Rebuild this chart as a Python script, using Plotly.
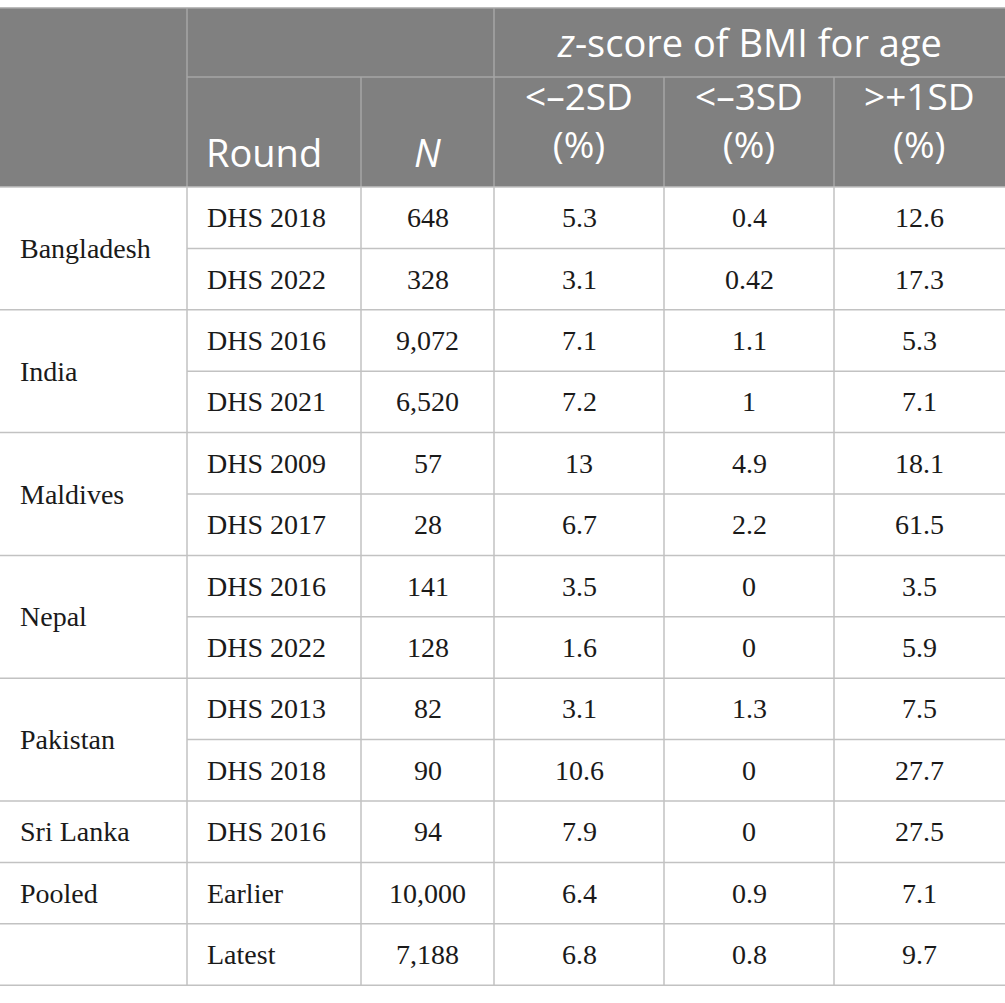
import plotly.graph_objects as go

# table content
countries = ["Bangladesh", "India", "Maldives", "Nepal", "Pakistan", "Sri Lanka", "Pooled", ""]
country_span = [2, 2, 2, 2, 2, 1, 1, 1]
rounds = ["DHS 2018", "DHS 2022", "DHS 2016", "DHS 2021", "DHS 2009", "DHS 2017",
          "DHS 2016", "DHS 2022", "DHS 2013", "DHS 2018", "DHS 2016", "Earlier", "Latest"]
n_obs = ["648", "328", "9,072", "6,520", "57", "28", "141", "128", "82", "90", "94", "10,000", "7,188"]
below_2sd = [5.3, 3.1, 7.1, 7.2, 13, 6.7, 3.5, 1.6, 3.1, 10.6, 7.9, 6.4, 6.8]
below_3sd = [0.4, 0.42, 1.1, 1, 4.9, 2.2, 0, 0, 1.3, 0, 0, 0.9, 0.8]
above_1sd = [12.6, 17.3, 5.3, 7.1, 18.1, 61.5, 3.5, 5.9, 7.5, 27.7, 27.5, 7.1, 9.7]

group_title = "<i>z</i>-score of BMI for age"
col_titles = ["Round", "<i>N</i>"]
sd_titles = ["<–2SD<br>(%)", "<–3SD<br>(%)", ">+1SD<br>(%)"]

# layout of the grid (pixels)
W, H = 1005, 1003
col_edges = [0, 187, 361, 494, 664, 834, 1005]
top, head_mid, head_bot = 8, 77, 187
row_h = 61.4

HEAD_BG = "#808080"
HEAD_LINE = "#a6a6a6"
BODY_LINE = "#c2c2c2"
TXT = "#1a1a1a"
sans = "Open Sans"
serif = "Liberation Serif"

fig = go.Figure()


def line(x0, y0, x1, y1, color):
    fig.add_shape(type="line", x0=x0, y0=y0, x1=x1, y1=y1, xref="x", yref="y",
                  line=dict(color=color, width=1.5), layer="above")


def text(x, y, s, size, color, font, xanchor="center", yanchor="middle"):
    fig.add_annotation(x=x, y=y, text=s, showarrow=False, xref="x", yref="y",
                       xanchor=xanchor, yanchor=yanchor, borderpad=0,
                       font=dict(family=font, size=size, color=color))


# header background
fig.add_shape(type="rect", x0=0, x1=W, y0=top, y1=head_bot, xref="x", yref="y",
              fillcolor=HEAD_BG, line=dict(width=0), layer="below")

# header lines
line(0, top, W, top, HEAD_LINE)
line(col_edges[1], head_mid, W, head_mid, HEAD_LINE)
for i in (1, 3):
    line(col_edges[i], top, col_edges[i], head_bot, HEAD_LINE)
for i in (2, 4, 5):
    line(col_edges[i], head_mid, col_edges[i], head_bot, HEAD_LINE)

# header text
text((col_edges[3] + col_edges[6]) / 2, 42, group_title, 38, "white", sans)
text(col_edges[1] + 18, 152, col_titles[0], 38, "white", sans, xanchor="left")
text((col_edges[2] + col_edges[3]) / 2, 152, col_titles[1], 38, "white", sans)
for k in range(3):
    cx = (col_edges[3 + k] + col_edges[4 + k]) / 2
    text(cx, 119, sd_titles[k], 37, "white", sans)

# body
n_rows = len(rounds)
body_bot = head_bot + n_rows * row_h
for i in range(1, 6):
    line(col_edges[i], head_bot, col_edges[i], body_bot, BODY_LINE)

# horizontal lines: full width at group boundaries, partial inside groups
group_starts = []
r = 0
for span in country_span:
    group_starts.append(r)
    r += span
for r in range(n_rows + 1):
    y = head_bot + r * row_h
    x0 = 0 if (r in group_starts or r == n_rows) else col_edges[1]
    line(x0, y, W, y, BODY_LINE)

# country labels
for name, start, span in zip(countries, group_starts, country_span):
    if name:
        y = head_bot + (start + span / 2) * row_h
        text(19, y, name, 28, TXT, serif, xanchor="left")

# cell values
for r in range(n_rows):
    y = head_bot + (r + 0.5) * row_h
    text(col_edges[1] + 19, y, rounds[r], 28, TXT, serif, xanchor="left")
    vals = [n_obs[r], str(below_2sd[r]), str(below_3sd[r]), str(above_1sd[r])]
    for k, v in enumerate(vals):
        cx = (col_edges[2 + k] + col_edges[3 + k]) / 2
        text(cx, y, v, 28, TXT, serif)

fig.update_layout(
    width=W, height=H,
    margin=dict(l=0, r=0, t=0, b=0),
    paper_bgcolor="white", plot_bgcolor="white",
    xaxis=dict(range=[0, W], visible=False, fixedrange=True),
    yaxis=dict(range=[H, 0], visible=False, fixedrange=True),
    showlegend=False,
)

# drop the browser's default page margin so the table sits flush like the original
fig.write_html("out.html", config={"displayModeBar": False},
               post_script="document.body.style.margin='0';")
